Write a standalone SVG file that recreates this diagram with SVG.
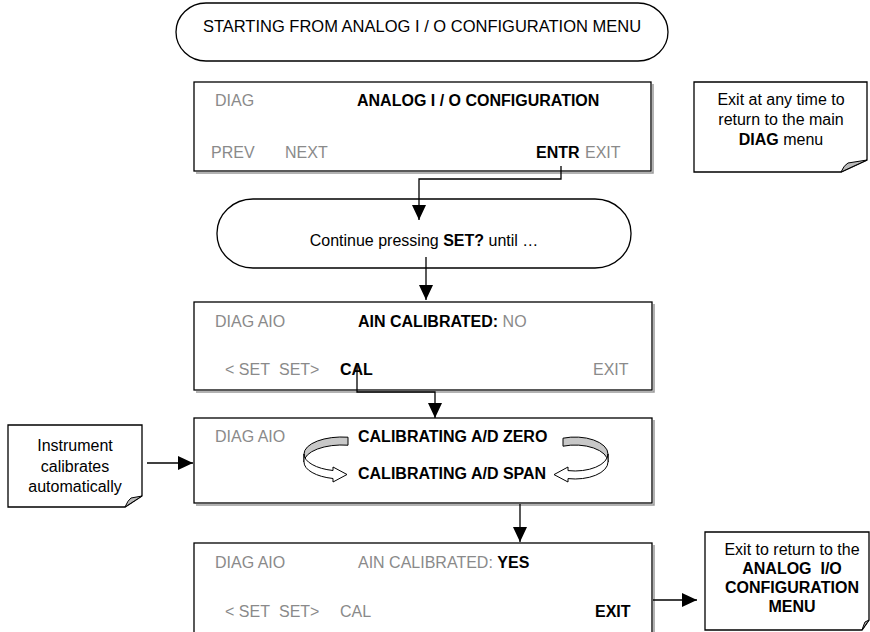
<svg xmlns="http://www.w3.org/2000/svg" width="870" height="632" viewBox="0 0 870 632">
<defs>
<marker id="ah" viewBox="0 0 15 14" refX="15" refY="7" markerWidth="15" markerHeight="14" markerUnits="userSpaceOnUse" orient="auto"><path d="M0,0 L15,7 L0,14 Z" fill="#000"/></marker>
</defs>
<style>
text{font-family:"Liberation Sans",Arial,sans-serif;font-size:16px;fill:#000}
.t{font-size:16.5px}
.g{fill:#8a8a8a}
.b{font-weight:bold}
.c{text-anchor:middle}
.box{fill:#fff;stroke:#000;stroke-width:1.3}
.sh{fill:none;stroke:#999;stroke-width:1.5}
.term{fill:#fff;stroke:#000;stroke-width:1.3}
.note{fill:#fff;stroke:#000;stroke-width:1.3}
.fold{fill:#bbb;stroke:#000;stroke-width:1}
.con{fill:none;stroke:#000;stroke-width:1.3}
.rb{fill:#c8c8c8;stroke:#000;stroke-width:1}
.rf{fill:#fff;stroke:#000;stroke-width:1}
</style>
<g id="start">
<rect class="term" x="176" y="3" width="492" height="58" rx="30" ry="29"/>
<text class="c t" x="422" y="32">STARTING FROM ANALOG I / O CONFIGURATION MENU</text>
</g>
<g id="screen1">
<path class="sh" d="M653,84 V173 H196"/>
<rect class="box" x="194" y="82" width="457" height="89"/>
<text class="g" x="215" y="106">DIAG</text>
<text class="b" x="357" y="106">ANALOG I / O CONFIGURATION</text>
<text class="g" x="211" y="158">PREV</text>
<text class="g" x="285" y="158">NEXT</text>
<text class="b" x="536" y="158">ENTR</text>
<text class="g" x="585" y="158">EXIT</text>
</g>
<g id="note1">
<path class="note" d="M694,82 H867 V160 L841,172 H694 Z"/>
<path class="fold" d="M841,172 Q844,165 848,163 L867,160 Z"/>
<text class="c" x="781" y="105">Exit at any time to</text>
<text class="c" x="781" y="125">return to the main</text>
<text class="c" x="781" y="145"><tspan class="b">DIAG</tspan> menu</text>
</g>
<g id="continue">
<rect class="term" x="217" y="199" width="414" height="69" rx="36" ry="34"/>
<text class="c" x="424" y="246">Continue pressing <tspan class="b">SET?</tspan> until …</text>
</g>
<g id="screen2">
<path class="sh" d="M654,304 V392 H196"/>
<rect class="box" x="194" y="302" width="458" height="88"/>
<text class="g" x="215" y="327">DIAG AIO</text>
<text x="358" y="327"><tspan class="b">AIN CALIBRATED:</tspan><tspan class="g"> NO</tspan></text>
<text class="g" x="225" y="375">&lt; SET</text>
<text class="g" x="279" y="375">SET&gt;</text>
<text class="b" x="340" y="375">CAL</text>
<text class="g" x="593" y="375">EXIT</text>
</g>
<g id="screen3">
<path class="sh" d="M654,420 V505 H196"/>
<rect class="box" x="194" y="418" width="458" height="85"/>
<text class="g" x="215" y="442">DIAG AIO</text>
<text class="b" x="358" y="442">CALIBRATING A/D ZERO</text>
<text class="b" x="358" y="479">CALIBRATING A/D SPAN</text>
<path class="rb" d="M348,437.2 A38,17 0 0 0 304,454 L304,462 A38,17 0 0 1 348,445.2 Z"/>
<path class="rf" d="M304,454 A38,17 0 0 0 333,470.5 L333,467 L347,474.5 L333,482 L333,478.5 A38,17 0 0 1 304,462 Z"/>
<path class="rb" d="M563,438.2 A33,17 0 0 1 608,454 L608,462 A33,17 0 0 0 563,446.2 Z"/>
<path class="rf" d="M608,454 A33,17 0 0 1 568,470.6 L568,467 L554,474.6 L568,482 L568,478.6 A33,17 0 0 0 608,462 Z"/>
</g>
<g id="note2">
<path class="note" d="M8,425 H142 V496 L125,507 H8 Z"/>
<path class="fold" d="M125,507 Q128,500 131,498 L142,496 Z"/>
<text class="c" x="75" y="451">Instrument</text>
<text class="c" x="75" y="472">calibrates</text>
<text class="c" x="75" y="492">automatically</text>
</g>
<g id="screen4">
<path class="sh" d="M654,545 V640"/>
<rect class="box" x="194" y="543" width="458" height="95"/>
<text class="g" x="215" y="568">DIAG AIO</text>
<text x="358" y="568"><tspan class="g">AIN CALIBRATED: </tspan><tspan class="b">YES</tspan></text>
<text class="g" x="225" y="617">&lt; SET</text>
<text class="g" x="279" y="617">SET&gt;</text>
<text class="g" x="340" y="617">CAL</text>
<text class="b" x="595" y="617">EXIT</text>
</g>
<g id="note3">
<path class="note" d="M705,532 H869 V620 L862,630 H705 Z"/>
<path class="fold" d="M862,630 Q864,624 865,622 L869,620 Z"/>
<text class="c" x="792" y="555">Exit to return to the</text>
<text class="c b" x="792" y="574" xml:space="preserve">ANALOG  I/O</text>
<text class="c b" x="792" y="593">CONFIGURATION</text>
<text class="c b" x="792" y="612">MENU</text>
</g>
<g id="connectors">
<path class="con" d="M561,166 V179 H419 V220" marker-end="url(#ah)"/>
<path class="con" d="M426,257 V300" marker-end="url(#ah)"/>
<path class="con" d="M357,366 V392 H435 V418" marker-end="url(#ah)"/>
<path class="con" d="M147,463 H193" marker-end="url(#ah)"/>
<path class="con" d="M520,504 V542" marker-end="url(#ah)"/>
<path class="con" d="M653,600 H697" marker-end="url(#ah)"/>
</g>
</svg>
